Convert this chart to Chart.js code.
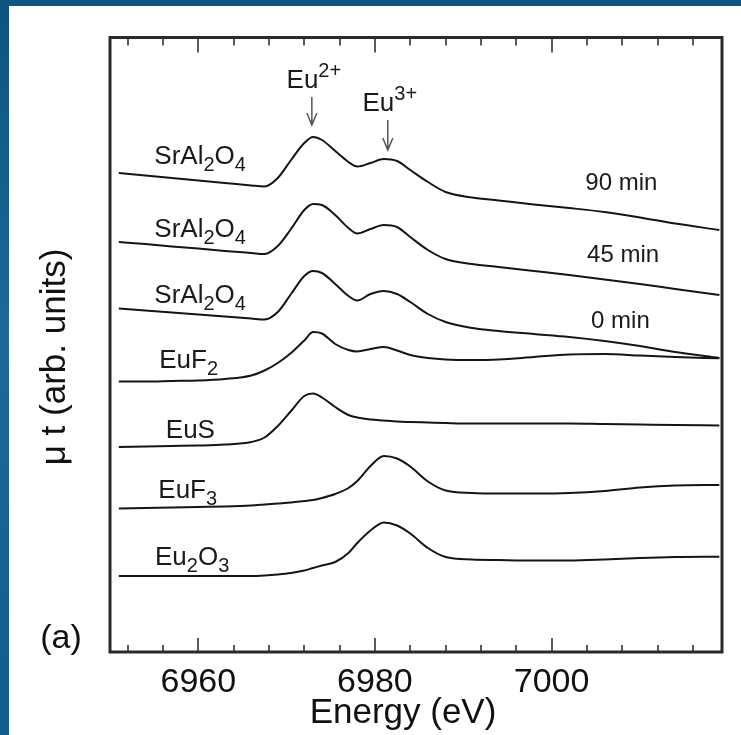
<!DOCTYPE html>
<html>
<head>
<meta charset="utf-8">
<script src="https://cdn.jsdelivr.net/npm/chart.js@4.4.1/dist/chart.umd.min.js"></script>
<style>
  html, body { margin: 0; padding: 0; background: #fff; }
  body { width: 741px; height: 735px; position: relative; overflow: hidden; }
  .edge-top { position: absolute; left: 0; top: 0; width: 741px; height: 6px; background: #0f5580; }
  .edge-left { position: absolute; left: 0; top: 0; width: 9px; height: 735px;
               background: linear-gradient(#0e5381, #1b699a 45%, #135d8e); }
  .plot { position: absolute; left: 9px; top: 6px; width: 732px; height: 729px; }
</style>
</head>
<body>
<div class="edge-top"></div>
<div class="edge-left"></div>
<div class="plot"><canvas id="xanes" width="732" height="729"></canvas></div>
<script>
// Eu L3-edge XANES, spectra stacked with vertical offsets (arb. units)
const energy = [6951, 6954, 6957, 6960, 6963, 6966, 6967.5, 6969, 6970.5, 6972, 6973, 6974, 6975.5, 6977,
  6978, 6979.5, 6981, 6982.5, 6984, 6986, 6988, 6991, 6994, 6998, 7002, 7006, 7010, 7014, 7019];

const srAl90 = [47.9, 47.65, 47.4, 47.15, 46.9, 46.65, 46.55, 47.4, 49.2, 50.9, 51.5, 51.2, 50.1, 49.0,
  48.55, 48.9, 49.3, 49.1, 48.2, 47.0, 46.0, 45.45, 45.15, 44.75, 44.4, 44.0, 43.45, 42.85, 42.2];
const srAl45 = [41.0, 40.8, 40.55, 40.35, 40.1, 39.9, 39.8, 40.6, 42.3, 44.2, 44.8, 44.7, 43.7, 42.4,
  41.85, 42.3, 42.7, 42.5, 41.5, 40.2, 39.3, 38.8, 38.5, 38.1, 37.7, 37.25, 36.8, 36.3, 35.7];
const srAl0 = [34.35, 34.15, 33.95, 33.75, 33.55, 33.35, 33.25, 34.0, 35.8, 37.6, 38.1, 37.9, 36.8, 35.6,
  35.15, 35.8, 36.1, 35.8, 35.0, 33.8, 33.0, 32.4, 32.1, 31.8, 31.5, 31.1, 30.6, 30.0, 29.4];
const euF2 = [27.05, 27.05, 27.1, 27.15, 27.3, 27.65, 28.15, 28.9, 29.9, 31.15, 32.0, 31.85, 30.8, 30.2,
  30.05, 30.3, 30.5, 30.15, 29.7, 29.4, 29.25, 29.2, 29.25, 29.5, 29.75, 29.8, 29.65, 29.5, 29.37];
const euS = [20.5, 20.55, 20.6, 20.65, 20.75, 21.0, 21.45, 22.6, 24.1, 25.6, 25.85, 25.45, 24.5, 23.7,
  23.45, 23.25, 23.15, 23.05, 23.0, 22.95, 22.9, 22.85, 22.85, 22.85, 22.85, 22.8, 22.75, 22.7, 22.65];
const euF3 = [14.35, 14.4, 14.45, 14.5, 14.55, 14.65, 14.75, 14.85, 14.95, 15.1, 15.2, 15.4, 15.8, 16.4,
  17.1, 18.6, 19.6, 19.35, 18.55, 17.05, 16.15, 15.9, 15.85, 15.85, 15.9, 16.1, 16.45, 16.65, 16.7];
const eu2O3 = [7.6, 7.6, 7.6, 7.6, 7.6, 7.6, 7.65, 7.75, 7.9, 8.15, 8.4, 8.65, 9.0, 9.9,
  10.9, 12.15, 12.95, 12.65, 11.85, 10.4, 9.5, 9.25, 9.2, 9.15, 9.15, 9.25, 9.4, 9.5, 9.53];

const xTickLabels = [6960, 6980, 7000];
const xTickMarks = [6952, 6956, 6960, 6964, 6968, 6972, 6976, 6980, 6984, 6988, 6992, 6996,
  7000, 7004, 7008, 7012, 7016];

// sample names, placed at [energy, intensity] of the text baseline
const sampleLabels = [
  { parts: [['SrAl'], ['2', 'sub'], ['O'], ['4', 'sub']], at: [6960.2, 48.8] },
  { parts: [['SrAl'], ['2', 'sub'], ['O'], ['4', 'sub']], at: [6960.2, 41.5] },
  { parts: [['SrAl'], ['2', 'sub'], ['O'], ['4', 'sub']], at: [6960.2, 34.9] },
  { parts: [['EuF'], ['2', 'sub']], at: [6958.9, 28.4] },
  { parts: [['EuS']], at: [6959.1, 21.4] },
  { parts: [['EuF'], ['3', 'sub']], at: [6958.8, 15.4] },
  { parts: [['Eu'], ['2', 'sub'], ['O'], ['3', 'sub']], at: [6959.3, 8.7] }
];
const timeLabels = [
  { parts: [['90 min']], at: [7007.9, 46.2] },
  { parts: [['45 min']], at: [7008.1, 39.0] },
  { parts: [['0 min']], at: [7007.8, 32.4] }
];

// valence markers: arrow from top to tip, label above it
const valenceMarks = [
  { charge: '2+', e: 6972.8, top: 55.5, tip: 52.7 },
  { charge: '3+', e: 6981.4, top: 53.2, tip: 50.2 }
];

const FONT = '"Liberation Sans", Arial, Helvetica, sans-serif';

function toPoints(values) {
  return values.map((v, i) => ({ x: energy[i], y: v }));
}

function drawRich(ctx, parts, cx, baseline, size) {
  const small = Math.round(size * 0.76);
  let width = 0;
  parts.forEach(([t, k]) => {
    ctx.font = (k ? small : size) + 'px ' + FONT;
    width += ctx.measureText(t).width;
  });
  let px = cx - width / 2;
  parts.forEach(([t, k]) => {
    ctx.font = (k ? small : size) + 'px ' + FONT;
    const dy = k === 'sub' ? size * 0.26 : k === 'sup' ? -size * 0.42 : 0;
    ctx.fillText(t, px, baseline + dy);
    px += ctx.measureText(t).width;
  });
}

const frameAndNotes = {
  id: 'frameAndNotes',
  afterDatasetsDraw(chart) {
    const { ctx, chartArea: a, scales: { x, y } } = chart;
    ctx.save();

    // tick marks point into the plot on bottom and top edges
    ctx.strokeStyle = '#5a5a5a';
    ctx.lineWidth = 2;
    xTickMarks.forEach(v => {
      const px = Math.round(x.getPixelForValue(v));
      const len = xTickLabels.includes(v) ? 14 : 7;
      ctx.beginPath();
      ctx.moveTo(px, a.bottom);
      ctx.lineTo(px, a.bottom - len);
      ctx.moveTo(px, a.top);
      ctx.lineTo(px, a.top + len + 1);
      ctx.stroke();
    });

    ctx.strokeStyle = '#2a2a2a';
    ctx.lineWidth = 3;
    ctx.strokeRect(a.left, a.top, a.right - a.left, a.bottom - a.top);

    ctx.fillStyle = '#1a1a1a';
    ctx.textBaseline = 'alphabetic';
    ctx.textAlign = 'left';
    sampleLabels.forEach(l => {
      drawRich(ctx, l.parts, x.getPixelForValue(l.at[0]), y.getPixelForValue(l.at[1]), 26);
    });
    timeLabels.forEach(l => {
      drawRich(ctx, l.parts, x.getPixelForValue(l.at[0]), y.getPixelForValue(l.at[1]), 24);
    });

    valenceMarks.forEach(m => {
      const px = x.getPixelForValue(m.e) + 0.5;
      const y0 = y.getPixelForValue(m.top);
      const y1 = y.getPixelForValue(m.tip);
      ctx.strokeStyle = '#555';
      ctx.lineWidth = 1.5;
      ctx.beginPath();
      ctx.moveTo(px, y0);
      ctx.lineTo(px, y1);
      ctx.moveTo(px - 5, y1 - 12);
      ctx.lineTo(px, y1);
      ctx.lineTo(px + 5, y1 - 12);
      ctx.stroke();
      drawRich(ctx, [['Eu'], [m.charge, 'sup']], px + 2, y0 - 9, 26);
    });

    ctx.fillStyle = '#111';
    ctx.font = '34px ' + FONT;
    ctx.textAlign = 'center';
    ctx.fillText('(a)', 52, 642);

    // axis titles
    ctx.font = '35px ' + FONT;
    ctx.textBaseline = 'middle';
    ctx.fillText('Energy (eV)', 394, 707);
    ctx.translate(46, 351);
    ctx.rotate(-Math.PI / 2);
    ctx.fillText('μ t (arb. units)', 0, 0);
    ctx.restore();
  }
};

const seriesList = [srAl90, srAl45, srAl0, euF2, euS, euF3, eu2O3];

new Chart(document.getElementById('xanes'), {
  type: 'line',
  data: {
    datasets: seriesList.map(s => ({
      data: toPoints(s),
      borderColor: '#151515',
      borderWidth: 2,
      pointRadius: 0,
      fill: false,
      cubicInterpolationMode: 'monotone'
    }))
  },
  options: {
    responsive: false,
    devicePixelRatio: 1,
    animation: false,
    layout: { padding: { top: 31.5, right: 19, left: 0, bottom: 0 } },
    plugins: { legend: { display: false }, tooltip: { enabled: false } },
    scales: {
      x: {
        type: 'linear',
        min: 6950,
        max: 7019.3,
        grid: { display: false },
        border: { display: false },
        afterBuildTicks: scale => { scale.ticks = xTickLabels.map(v => ({ value: v })); },
        afterFit: scale => { scale.height = 83; },
        ticks: {
          color: '#111',
          padding: 2,
          maxRotation: 0,
          font: { family: FONT, size: 34 },
          callback: v => String(v)
        }
      },
      y: {
        type: 'linear',
        min: 0,
        max: 61.45,
        grid: { display: false },
        border: { display: false },
        ticks: { display: false },
        afterFit: scale => { scale.width = 101; }
      }
    }
  },
  plugins: [frameAndNotes]
});
</script>
</body>
</html>
